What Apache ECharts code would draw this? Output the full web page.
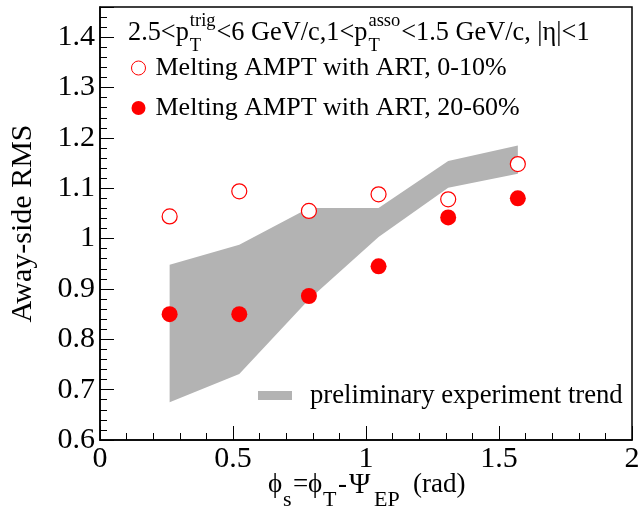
<!DOCTYPE html>
<html><head><meta charset="utf-8">
<script src="https://cdn.jsdelivr.net/npm/echarts@6/dist/echarts.min.js"></script>
<style>html,body{margin:0;padding:0;background:#fff}#c{width:641px;height:510px}</style>
</head><body><div id="c"></div>
<script>
const xVals = [0.2618, 0.5236, 0.7854, 1.0472, 1.3090, 1.5708];
const rms010 = [1.044, 1.094, 1.055, 1.088, 1.078, 1.148];
const rms2060 = [0.850, 0.850, 0.886, 0.945, 1.042, 1.080];
const bandUpper = [0.948, 0.988, 1.061, 1.061, 1.154, 1.185];
const bandLower = [0.675, 0.731, 0.879, 1.003, 1.101, 1.129];
const name010 = 'Melting AMPT with ART, 0-10%';
const name2060 = 'Melting AMPT with ART, 20-60%';
const nameBand = 'preliminary experiment trend';

const FONT = '"Liberation Serif", "Times New Roman", serif';
const chart = echarts.init(document.getElementById('c'), null, {renderer: 'canvas'});

const ctx = document.createElement('canvas').getContext('2d');
function w(t, size) { ctx.font = size + 'px ' + FONT; return ctx.measureText(t).width; }
function txt(t, x, top, size) {
  return {type: 'text', left: x, top: top, style: {text: t, font: size + 'px ' + FONT, fill: '#000'}};
}

// header line
const MAIN = 26.3, SMALL = 18.5;
const pieces = [
  {t: '2.5<p', sup: 'trig', sub: 'T'},
  {t: '<6 GeV/c,1<p', sup: 'asso', sub: 'T'},
  {t: '<1.5 GeV/c, |\u03b7|<1'}
];
const graphics = [];
let cx = 128;
pieces.forEach(p => {
  graphics.push(txt(p.t, cx, 20, MAIN));
  cx += w(p.t, MAIN);
  if (p.sup) {
    graphics.push(txt(p.sup, cx + 1, 12, SMALL));
    graphics.push(txt(p.sub, cx + 1, 37, SMALL));
    cx += Math.max(w(p.sup, SMALL), w(p.sub, SMALL)) + 2;
  }
});

// x-axis title: phi_s = phi_T - Psi_EP (rad), laid out piece by piece (left edge, subscript flag)
const XT_MAIN = 27, XT_SUB = 22;
const xTitle = [
  ['\u03d5', 0, 268], ['s', 1, 283], ['=', 0, 293], ['\u03d5', 0, 308], ['T', 1, 323],
  ['-', 0, 338], ['\u03a8', 0, 349], ['EP', 1, 374], ['(rad)', 0, 413]
];
xTitle.forEach(([t, s, x]) => {
  graphics.push(s ? txt(t, x, 489, XT_SUB) : txt(t, x, 471, t === '\u03a8' ? 29 : XT_MAIN));
});

const bandData = xVals.map((x, i) => [x, bandLower[i], bandUpper[i]]);

chart.setOption({
  animation: false,
  backgroundColor: '#fff',
  textStyle: {fontFamily: FONT, color: '#000'},
  grid: {left: 100, right: 9, top: 7, bottom: 70, containLabel: false, outerBoundsMode: 'none',
    show: true, borderColor: '#000', borderWidth: 1.5, backgroundColor: 'transparent'},
  xAxis: {
    type: 'value', min: 0, max: 2, interval: 0.5,
    axisLine: {lineStyle: {color: '#000', width: 1.5}},
    axisTick: {inside: true, length: 14, lineStyle: {color: '#000', width: 1}},
    minorTick: {show: true, splitNumber: 5, length: 7, lineStyle: {color: '#000', width: 1}},
    splitLine: {show: false},
    axisLabel: {fontFamily: FONT, fontSize: 30, color: '#000', margin: 4,
      formatter: v => String(v), showMaxLabel: true}
  },
  yAxis: {
    type: 'value', min: 0.6, max: 1.46, interval: 0.1,
    axisLine: {lineStyle: {color: '#000', width: 1.5}},
    axisTick: {inside: true, length: 14, lineStyle: {color: '#000', width: 1}},
    minorTick: {show: true, splitNumber: 5, length: 7, lineStyle: {color: '#000', width: 1}},
    splitLine: {show: false},
    axisLabel: {fontFamily: FONT, fontSize: 30, color: '#000', margin: 5, showMaxLabel: false,
      formatter: v => Math.abs(v * 10 - Math.round(v * 10)) < 1e-6 ? String(Math.round(v * 10) / 10) : ''},
    name: 'Away-side RMS', nameLocation: 'middle', nameGap: 62,
    nameTextStyle: {fontFamily: FONT, fontSize: 30, color: '#000'}
  },
  legend: [
    {
      data: [
        {name: name010, icon: 'circle', itemStyle: {color: '#fff', borderColor: '#ff0000', borderWidth: 1}},
        {name: name2060, icon: 'circle', itemStyle: {color: '#ff0000', borderColor: '#ff0000', borderWidth: 0}}
      ],
      orient: 'vertical', left: 131, top: 55, itemGap: 14, itemWidth: 14, itemHeight: 14, padding: 0,
      textStyle: {fontFamily: FONT, fontSize: 26, color: '#000', padding: [0, 0, 0, 5]},
      selectedMode: false
    },
    {
      data: [{name: nameBand, icon: 'rect', itemStyle: {color: '#b3b3b3'}}],
      left: 258, top: 382, itemWidth: 34, itemHeight: 9, padding: 0,
      textStyle: {fontFamily: FONT, fontSize: 26.7, color: '#000', padding: [0, 0, 0, 13]},
      selectedMode: false
    }
  ],
  graphic: graphics,
  series: [
    {
      name: nameBand, type: 'custom', z: 1,
      data: bandData,
      encode: {x: 0, y: [1, 2]},
      itemStyle: {color: '#b3b3b3'},
      renderItem: function (params, api) {
        if (params.dataIndex !== 0) return null;
        const pts = [];
        for (let i = 0; i < bandData.length; i++) pts.push(api.coord([bandData[i][0], bandData[i][2]]));
        for (let i = bandData.length - 1; i >= 0; i--) pts.push(api.coord([bandData[i][0], bandData[i][1]]));
        return {type: 'polygon', shape: {points: pts}, style: {fill: '#b3b3b3', stroke: null}};
      }
    },
    {
      name: name010, type: 'scatter', z: 3, symbol: 'circle', symbolSize: 15,
      itemStyle: {color: '#fff', borderColor: '#ff0000', borderWidth: 1.2, opacity: 1},
      data: xVals.map((x, i) => [x, rms010[i]])
    },
    {
      name: name2060, type: 'scatter', z: 3, symbol: 'circle', symbolSize: 16,
      itemStyle: {color: '#ff0000', opacity: 1},
      data: xVals.map((x, i) => [x, rms2060[i]])
    }
  ]
});
</script></body></html>
